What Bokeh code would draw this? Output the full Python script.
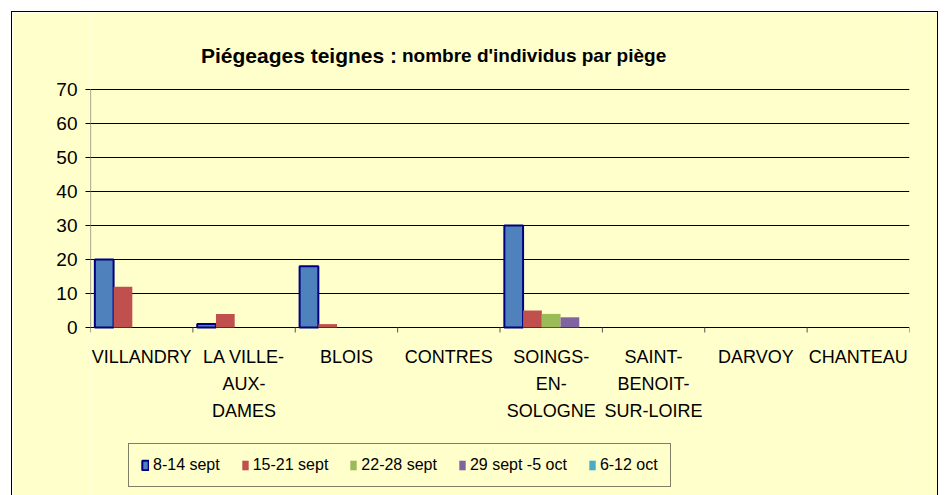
import numpy as np
from bokeh.plotting import figure
from bokeh.models import (Range1d, FixedTicker, Legend, LegendItem, ColumnDataSource)
from bokeh.core.properties import value
from bokeh.embed import file_html
from bokeh.resources import INLINE

# ---- data ----
categories = ["VILLANDRY", "LA VILLE-AUX-DAMES", "BLOIS", "CONTRES",
              "SOINGS-EN-SOLOGNE", "SAINT-BENOIT-SUR-LOIRE", "DARVOY", "CHANTEAU"]
tick_labels = ["VILLANDRY", "LA VILLE-\nAUX-\nDAMES", "BLOIS", "CONTRES",
               "SOINGS-\nEN-\nSOLOGNE", "SAINT-\nBENOIT-\nSUR-LOIRE", "DARVOY", "CHANTEAU"]
series_names = ["8-14 sept", "15-21 sept", "22-28 sept", "29 sept -5 oct", "6-12 oct"]
s_8_14 = [20, 1, 18, None, 30, None, None, None]
s_15_21 = [12, 4, 1, None, 5, None, None, None]
s_22_28 = [None, None, None, None, 4, None, None, None]
s_29_5 = [None, None, None, None, 3, None, None, None]
s_6_12 = [None, None, None, None, None, None, None, None]
series_values = [s_8_14, s_15_21, s_22_28, s_29_5, s_6_12]
colors = ["#4F81BD", "#C0504D", "#9BBB59", "#8064A2", "#4BACC6"]
y_ticks = [0, 10, 20, 30, 40, 50, 60, 70]
title_main = "Piégeages teignes :"
title_sub = "nombre d'individus par piège"

FONT = "Liberation Sans"
BG = "#FFFFCC"

# layout (pixels)
W, H = 927, 485
LEFT, RIGHT = 78, 30
PLOT_TOP, PLOT_H = 77, 238            # 70-line and 0-line positions inside canvas
PLOT_BOTTOM = H - PLOT_TOP - PLOT_H   # space below the 0-line

n = len(categories)
ymax = y_ticks[-1]
upp = ymax / PLOT_H                    # data units per pixel
y_range = Range1d(-PLOT_BOTTOM * upp, ymax + PLOT_TOP * upp)

p = figure(width=W, height=H, x_range=Range1d(0, n), y_range=y_range,
           output_backend="svg", toolbar_location=None, x_axis_location=None,
           min_border_left=LEFT, min_border_right=RIGHT, min_border_top=0,
           min_border_bottom=0,
           background_fill_color=BG, border_fill_color=BG, outline_line_color=None)
p.styles = {"border": "1px solid black", "margin-left": "11px", "margin-top": "11px"}

# grid
p.xgrid.grid_line_color = None
p.ygrid.ticker = FixedTicker(ticks=y_ticks)
p.ygrid.grid_line_color = "black"
p.ygrid.grid_line_width = 1

# y axis line (drawn between first and last tick)
p.segment(x0=[0], y0=[y_ticks[0]], x1=[0], y1=[y_ticks[-1]], line_color="#6b6b5a", line_width=1.2)

# category separator ticks below the 0-line
p.ray(x=list(range(n + 1)), y=[0] * (n + 1), length=5, length_units="screen",
      angle=-np.pi / 2, line_color="#555555", line_width=1)

bar_w = 0.183
idx = np.arange(n)
renderers = []
for k, (vals, col) in enumerate(zip(series_values, colors)):
    tops = np.array([np.nan if v is None else v for v in vals], dtype=float)
    src = ColumnDataSource(dict(x=idx + 0.5 + (k - 2) * bar_w, top=tops))
    if k == 0:
        r = p.vbar(x="x", top="top", bottom=0, width=bar_w, source=src,
                   fill_color=col, line_color="#000080", line_width=2)
    else:
        r = p.vbar(x="x", top="top", bottom=0, width=bar_w, source=src,
                   fill_color=col, line_color=None)
    renderers.append(r)

# y axis
yax = p.yaxis[0]
yax.ticker = FixedTicker(ticks=y_ticks)
yax.axis_line_color = None
yax.major_tick_line_color = "black"
yax.major_tick_out = 5
yax.major_tick_in = 0
yax.minor_tick_line_color = None
yax.major_label_text_font = FONT
yax.major_label_text_font_size = "19px"
yax.major_label_text_color = "black"
yax.major_label_standoff = 8

# category labels
lab_src = ColumnDataSource(dict(x=idx + 0.5, y=[0] * n, text=tick_labels))
p.text(x="x", y="y", text="text", source=lab_src, y_offset=19,
       text_font=value(FONT), text_font_size="18px", text_color="black",
       text_align="center", text_baseline="top", text_line_height=1.35)

# title (two parts, different sizes)
p.text(x=[n / 2], y=[ymax], text=[title_main], x_offset=-103, y_offset=-34,
       text_font=value(FONT), text_font_size="21px", text_font_style="bold",
       text_align="right", text_baseline="alphabetic", text_color="black")
p.text(x=[n / 2], y=[ymax], text=[title_sub], x_offset=-98, y_offset=-34,
       text_font=value(FONT), text_font_size="19px", text_font_style="bold",
       text_align="left", text_baseline="alphabetic", text_color="black")

legend = Legend(items=[LegendItem(label=nm, renderers=[r]) for nm, r in zip(series_names, renderers)],
                orientation="horizontal", location=(38, 10),
                label_text_font=FONT, label_text_font_size="16px", label_text_color="black",
                glyph_width=8, glyph_height=12, label_standoff=4, spacing=21,
                padding=12, margin=0,
                border_line_color="black", border_line_width=1,
                background_fill_color=BG, background_fill_alpha=1)
p.add_layout(legend, "center")

open("out.html", "w").write(file_html(p, INLINE))
